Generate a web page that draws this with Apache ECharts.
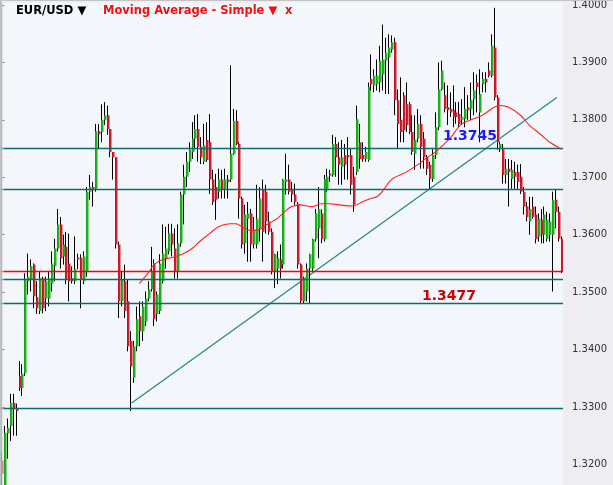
<!DOCTYPE html>
<html><head><meta charset="utf-8">
<script src="https://cdn.jsdelivr.net/npm/echarts@6/dist/echarts.min.js"></script>
<style>html,body{margin:0;padding:0;background:#ededf2}#c{width:613px;height:485px}</style>
</head><body><div id="c"></div>
<script>
// EUR/USD candles (index order, oldest first)
const opens = [
1.3207,1.3163,1.3254,1.3267,1.3307,1.3297,1.3354,1.3333,1.3359,1.3519,
1.3522,1.3548,1.3491,1.3467,1.3524,1.3489,1.3489,1.3515,1.3545,1.3576,
1.3618,1.3562,1.3579,1.3550,1.3524,1.3519,1.3560,1.3560,1.3519,1.3536,
1.3675,1.3683,1.3680,1.3780,1.3779,1.3800,1.3808,1.3784,1.3744,1.3735,
1.3583,1.3484,1.3519,1.3484,1.3415,1.3351,1.3406,1.3458,1.3432,1.3449,
1.3489,1.3505,1.3550,1.3462,1.3467,1.3519,1.3559,1.3571,1.3602,1.3576,
1.3536,1.3585,1.3670,1.3701,1.3727,1.3744,1.3767,1.3784,1.3753,1.3727,
1.3765,1.3761,1.3696,1.3683,1.3675,1.3696,1.3680,1.3696,1.3696,1.3741,
1.3798,1.3758,1.3663,1.3585,1.3628,1.3637,1.3583,1.3583,1.3611,1.3678,
1.3675,1.3623,1.3605,1.3536,1.3541,1.3557,1.3548,1.3692,1.3696,1.3678,
1.3670,1.3654,1.3548,1.3484,1.3501,1.3541,1.3541,1.3592,1.3611,1.3637,
1.3592,1.3680,1.3706,1.3704,1.3758,1.3735,1.3718,1.3739,1.3739,1.3739,
1.3701,1.3709,1.3761,1.3739,1.3732,1.3730,1.3871,1.3860,1.3862,1.3865,
1.3879,1.3903,1.3909,1.3922,1.3935,1.3834,1.3800,1.3843,1.3827,1.3827,
1.3779,1.3741,1.3767,1.3793,1.3767,1.3735,1.3722,1.3697,1.3739,1.3787,
1.3853,1.3843,1.3822,1.3819,1.3817,1.3813,1.3810,1.3800,1.3801,1.3822,
1.3819,1.3836,1.3865,1.3813,1.3862,1.3871,1.3886,1.3877,1.3926,1.3839,
1.3749,1.3749,1.3704,1.3715,1.3697,1.3709,1.3709,1.3701,1.3675,1.3649,
1.3623,1.3649,1.3635,1.3597,1.3626,1.3600,1.3593,1.3600,1.3600,1.3661,
1.3640,1.3593];
const closes = [
1.3184,1.3255,1.3264,1.3307,1.3297,1.3293,1.3333,1.3358,1.3522,1.3527,
1.3545,1.3493,1.3472,1.3524,1.3472,1.3519,1.3524,1.3550,1.3576,1.3618,
1.3559,1.3583,1.3522,1.3519,1.3519,1.3540,1.3557,1.3522,1.3562,1.3675,
1.3683,1.3680,1.3780,1.3775,1.3800,1.3808,1.3784,1.3744,1.3735,1.3583,
1.3484,1.3522,1.3467,1.3406,1.3371,1.3406,1.3453,1.3432,1.3475,1.3489,
1.3505,1.3536,1.3453,1.3496,1.3550,1.3567,1.3576,1.3602,1.3583,1.3536,
1.3585,1.3670,1.3701,1.3727,1.3748,1.3767,1.3784,1.3753,1.3735,1.3756,
1.3730,1.3696,1.3657,1.3661,1.3696,1.3678,1.3696,1.3692,1.3741,1.3798,
1.3758,1.3663,1.3583,1.3635,1.3637,1.3583,1.3609,1.3628,1.3663,1.3605,
1.3623,1.3605,1.3536,1.3566,1.3559,1.3541,1.3696,1.3696,1.3675,1.3670,
1.3657,1.3548,1.3484,1.3524,1.3541,1.3566,1.3592,1.3637,1.3644,1.3592,
1.3697,1.3701,1.3703,1.3758,1.3735,1.3722,1.3735,1.3722,1.3735,1.3687,
1.3652,1.3801,1.3732,1.3732,1.3744,1.3857,1.3862,1.3877,1.3877,1.3903,
1.3905,1.3917,1.3926,1.3935,1.3834,1.3793,1.3779,1.3782,1.3791,1.3779,
1.3744,1.3765,1.3793,1.3753,1.3735,1.3715,1.3697,1.3739,1.3787,1.3853,
1.3886,1.3819,1.3817,1.3813,1.3805,1.3805,1.3793,1.3805,1.3819,1.3817,
1.3834,1.3851,1.3857,1.3845,1.3871,1.3865,1.3877,1.3929,1.3839,1.3761,
1.3758,1.3704,1.3715,1.3709,1.3713,1.3701,1.3692,1.3675,1.3649,1.3631,
1.3645,1.3631,1.3592,1.3628,1.3600,1.3635,1.3626,1.3623,1.3661,1.3640,
1.3593,1.3536];
const lows = [
1.3160,1.3160,1.3210,1.3241,1.3250,1.3250,1.3328,1.3319,1.3354,1.3496,
1.3501,1.3472,1.3462,1.3462,1.3463,1.3467,1.3475,1.3501,1.3519,1.3571,
1.3541,1.3548,1.3514,1.3484,1.3515,1.3514,1.3540,1.3472,1.3514,1.3527,
1.3661,1.3649,1.3675,1.3749,1.3761,1.3791,1.3774,1.3735,1.3696,1.3576,
1.3455,1.3475,1.3455,1.3397,1.3293,1.3342,1.3397,1.3406,1.3415,1.3441,
1.3484,1.3501,1.3441,1.3449,1.3462,1.3515,1.3541,1.3566,1.3562,1.3524,
1.3524,1.3579,1.3618,1.3683,1.3709,1.3732,1.3749,1.3727,1.3723,1.3723,
1.3727,1.3671,1.3652,1.3626,1.3663,1.3663,1.3663,1.3663,1.3692,1.3739,
1.3756,1.3628,1.3576,1.3567,1.3553,1.3553,1.3576,1.3576,1.3588,1.3553,
1.3602,1.3600,1.3531,1.3507,1.3514,1.3524,1.3541,1.3670,1.3670,1.3657,
1.3652,1.3541,1.3479,1.3481,1.3484,1.3481,1.3536,1.3588,1.3559,1.3585,
1.3588,1.3675,1.3692,1.3701,1.3701,1.3687,1.3687,1.3696,1.3696,1.3670,
1.3640,1.3704,1.3715,1.3727,1.3727,1.3727,1.3851,1.3848,1.3851,1.3848,
1.3851,1.3845,1.3845,1.3917,1.3808,1.3749,1.3761,1.3761,1.3779,1.3775,
1.3739,1.3713,1.3761,1.3715,1.3715,1.3704,1.3680,1.3692,1.3732,1.3782,
1.3851,1.3813,1.3791,1.3805,1.3787,1.3793,1.3787,1.3791,1.3787,1.3800,
1.3800,1.3808,1.3813,1.3761,1.3848,1.3848,1.3874,1.3874,1.3834,1.3748,
1.3744,1.3689,1.3689,1.3649,1.3680,1.3680,1.3680,1.3671,1.3635,1.3623,
1.3600,1.3628,1.3585,1.3588,1.3585,1.3585,1.3588,1.3588,1.3501,1.3611,
1.3588,1.3533];
const highs = [
1.3221,1.3267,1.3280,1.3323,1.3323,1.3306,1.3380,1.3375,1.3533,1.3567,
1.3557,1.3550,1.3519,1.3536,1.3527,1.3527,1.3536,1.3571,1.3593,1.3645,
1.3631,1.3600,1.3605,1.3602,1.3545,1.3597,1.3567,1.3566,1.3571,1.3683,
1.3704,1.3692,1.3793,1.3793,1.3827,1.3831,1.3825,1.3784,1.3744,1.3735,
1.3588,1.3536,1.3548,1.3522,1.3432,1.3415,1.3475,1.3484,1.3484,1.3501,
1.3519,1.3579,1.3557,1.3501,1.3566,1.3618,1.3614,1.3619,1.3619,1.3611,
1.3618,1.3675,1.3722,1.3744,1.3761,1.3796,1.3808,1.3810,1.3770,1.3793,
1.3796,1.3810,1.3713,1.3706,1.3715,1.3713,1.3715,1.3704,1.3895,1.3819,
1.3817,1.3761,1.3666,1.3652,1.3657,1.3645,1.3631,1.3687,1.3683,1.3696,
1.3687,1.3640,1.3611,1.3567,1.3571,1.3583,1.3697,1.3741,1.3722,1.3692,
1.3689,1.3657,1.3550,1.3527,1.3550,1.3567,1.3593,1.3645,1.3683,1.3644,
1.3704,1.3715,1.3713,1.3774,1.3770,1.3761,1.3765,1.3758,1.3770,1.3749,
1.3718,1.3825,1.3793,1.3761,1.3753,1.3865,1.3914,1.3888,1.3905,1.3929,
1.3966,1.3943,1.3949,1.3947,1.3943,1.3853,1.3874,1.3848,1.3865,1.3831,
1.3808,1.3808,1.3819,1.3808,1.3779,1.3739,1.3727,1.3749,1.3813,1.3900,
1.3903,1.3865,1.3860,1.3848,1.3860,1.3831,1.3831,1.3836,1.3857,1.3843,
1.3865,1.3883,1.3879,1.3888,1.3883,1.3883,1.3900,1.3949,1.3995,1.3843,
1.3761,1.3758,1.3732,1.3732,1.3730,1.3727,1.3722,1.3723,1.3683,1.3657,
1.3666,1.3666,1.3649,1.3637,1.3645,1.3649,1.3640,1.3637,1.3675,1.3678,
1.3649,1.3597];

// Simple moving average at these candle indices
const maIdx = [47,50,52,55,58,62,65,68,71,74,78,80,82,85,88,91,94,97,99,102,
  104,106,109,112,115,120,123,126,128,130,133,138,142,145,148,153,157,164,168,170,
  173,177,180,184,187,191];
const maVal = [1.3515,1.3533,1.3548,1.3557,1.3560,1.3567,1.3576,1.3590,1.3602,1.3614,
  1.3619,1.3619,1.3614,1.3607,1.3609,1.3619,1.3628,1.3642,1.3649,1.3652,
  1.3650,1.3649,1.3654,1.3654,1.3652,1.3650,1.3657,1.3663,1.3666,1.3676,
  1.3696,1.3709,1.3722,1.3734,1.3744,1.3768,1.3793,1.3808,1.3822,1.3825,
  1.3822,1.3808,1.3791,1.3774,1.3761,1.3749];

// Trend line end points (candle index, price)
const trendIdx = [44.4, 189.4];
const trendVal = [1.3307, 1.3839];

// Horizontal levels
const tealLevels = [1.3751, 1.3679, 1.3522, 1.3480, 1.3298];
const redLevels = [1.3536];

// Annotation texts
const labelBlue = '1.3745';
const labelRed = '1.3477';

// Price axis: visible range and tick labels
const yMin = 1.31642, yMax = 1.40040;
const yTicks = [1.32, 1.33, 1.34, 1.35, 1.36, 1.37, 1.38, 1.39, 1.40];

const N = opens.length;
const candleData = opens.map((o, i) => [i, o, closes[i], lows[i], highs[i]]);
const maData = maIdx.map((x, k) => [x, maVal[k]]);
const trendData = trendIdx.map((x, k) => [x, trendVal[k]]);

const G = echarts.graphic;
const greenFill = new G.LinearGradient(0, 0, 1, 0, [{offset: 0, color: '#0f9e0f'}, {offset: 0.55, color: '#1fb31f'}, {offset: 1, color: '#86d486'}]);
const redFill = new G.LinearGradient(0, 0, 1, 0, [{offset: 0, color: '#b8101f'}, {offset: 0.55, color: '#cc1e30'}, {offset: 1, color: '#e68a95'}]);

function renderCandle(params, api) {
  const i = api.value(0), o = api.value(1), c = api.value(2), l = api.value(3), h = api.value(4);
  const pO = api.coord([i, o]), pC = api.coord([i, c]);
  const pL = api.coord([i, l]), pH = api.coord([i, h]);
  const cx = Math.round(pO[0] - 0.5) + 0.5;
  const top = Math.min(pO[1], pC[1]), bot = Math.max(pO[1], pC[1]);
  const up = c >= o;
  return {
    type: 'group',
    children: [
      {type: 'line', shape: {x1: cx, y1: Math.min(pH[1], top), x2: cx, y2: Math.max(pL[1], bot)},
       style: {stroke: '#000', lineWidth: 1}},
      {type: 'rect', shape: {x: cx - 0.5, y: top, width: 2.8, height: Math.max(1, bot - top)},
       style: {fill: up ? greenFill : redFill}}
    ]
  };
}

const chart = echarts.init(document.getElementById('c'), null, {renderer: 'canvas'});
chart.setOption({
  animation: false,
  backgroundColor: '#ededf2',
  grid: {left: 0, right: 50, top: 0, bottom: 0, show: true,
         backgroundColor: '#f3f6fa', borderWidth: 0},
  xAxis: {type: 'value', min: -0.5, max: N - 0.5, show: false},
  yAxis: {type: 'value', position: 'right', min: yMin, max: yMax,
    axisLine: {show: true, lineStyle: {color: '#8a8a8a', width: 1}},
    axisTick: {show: true, length: 3, customValues: yTicks, lineStyle: {color: '#666'}},
    splitLine: {show: false},
    axisLabel: {margin: 9, color: '#333', fontSize: 10, fontFamily: 'DejaVu Sans',
      customValues: yTicks, formatter: v => v.toFixed(4)}},
  series: [
    {type: 'line', name: 'levels', data: [], symbol: 'none', silent: true, z: 3,
     markLine: {silent: true, symbol: 'none', precision: 4, label: {show: false},
       lineStyle: {color: '#0e6b6b', width: 1.3, type: 'solid', opacity: 1},
       data: tealLevels.map(v => ({yAxis: v}))}},
    {type: 'line', name: 'redLevel', data: [], symbol: 'none', silent: true, z: 3,
     markLine: {silent: true, symbol: 'none', precision: 4, label: {show: false},
       lineStyle: {color: '#ff0000', width: 1.3, type: 'solid', opacity: 1},
       data: redLevels.map(v => ({yAxis: v}))}},
    {type: 'line', name: 'trend', data: trendData, symbol: 'none', silent: true, z: 3,
     lineStyle: {color: '#27898a', width: 1.3}},
    {type: 'custom', renderItem: renderCandle, data: candleData, clip: true, z: 4,
     encode: {x: 0, y: [1, 2, 3, 4]}},
    {type: 'line', name: 'SMA', data: maData, symbol: 'none', smooth: 0.3, silent: true, z: 5,
     lineStyle: {color: '#ff2020', width: 1.1}}
  ],
  graphic: [
    {type: 'rect', left: 0, top: 0, z: 50, shape: {width: 613, height: 1}, style: {fill: '#c4c4c4'}},
    {type: 'rect', left: 0, top: 0, z: 50, shape: {width: 4, height: 485},
     style: {fill: new G.LinearGradient(0, 0, 1, 0, [{offset: 0, color: '#b4b4b4'}, {offset: 1, color: 'rgba(236,240,245,0.3)'}])}},
    {type: 'text', left: 16, top: 5, z: 60, style: {text: 'EUR/USD ▼', font: 'bold 11.5px "DejaVu Sans"', fill: '#000'}},
    {type: 'text', left: 103, top: 5, z: 60, style: {text: 'Moving Average - Simple ▼', font: 'bold 11.5px "DejaVu Sans"', fill: '#f01010'}},
    {type: 'text', left: 285, top: 5, z: 60, style: {text: 'x', font: 'bold 11.5px "DejaVu Sans"', fill: '#f01010'}},
    {type: 'text', left: 443, top: 129, z: 60, style: {text: labelBlue, font: 'bold 14px "DejaVu Sans"', fill: '#1a1aff'}},
    {type: 'text', left: 422, top: 289, z: 60, style: {text: labelRed, font: 'bold 14px "DejaVu Sans"', fill: '#cc0000'}}
  ]
});
</script></body></html>
